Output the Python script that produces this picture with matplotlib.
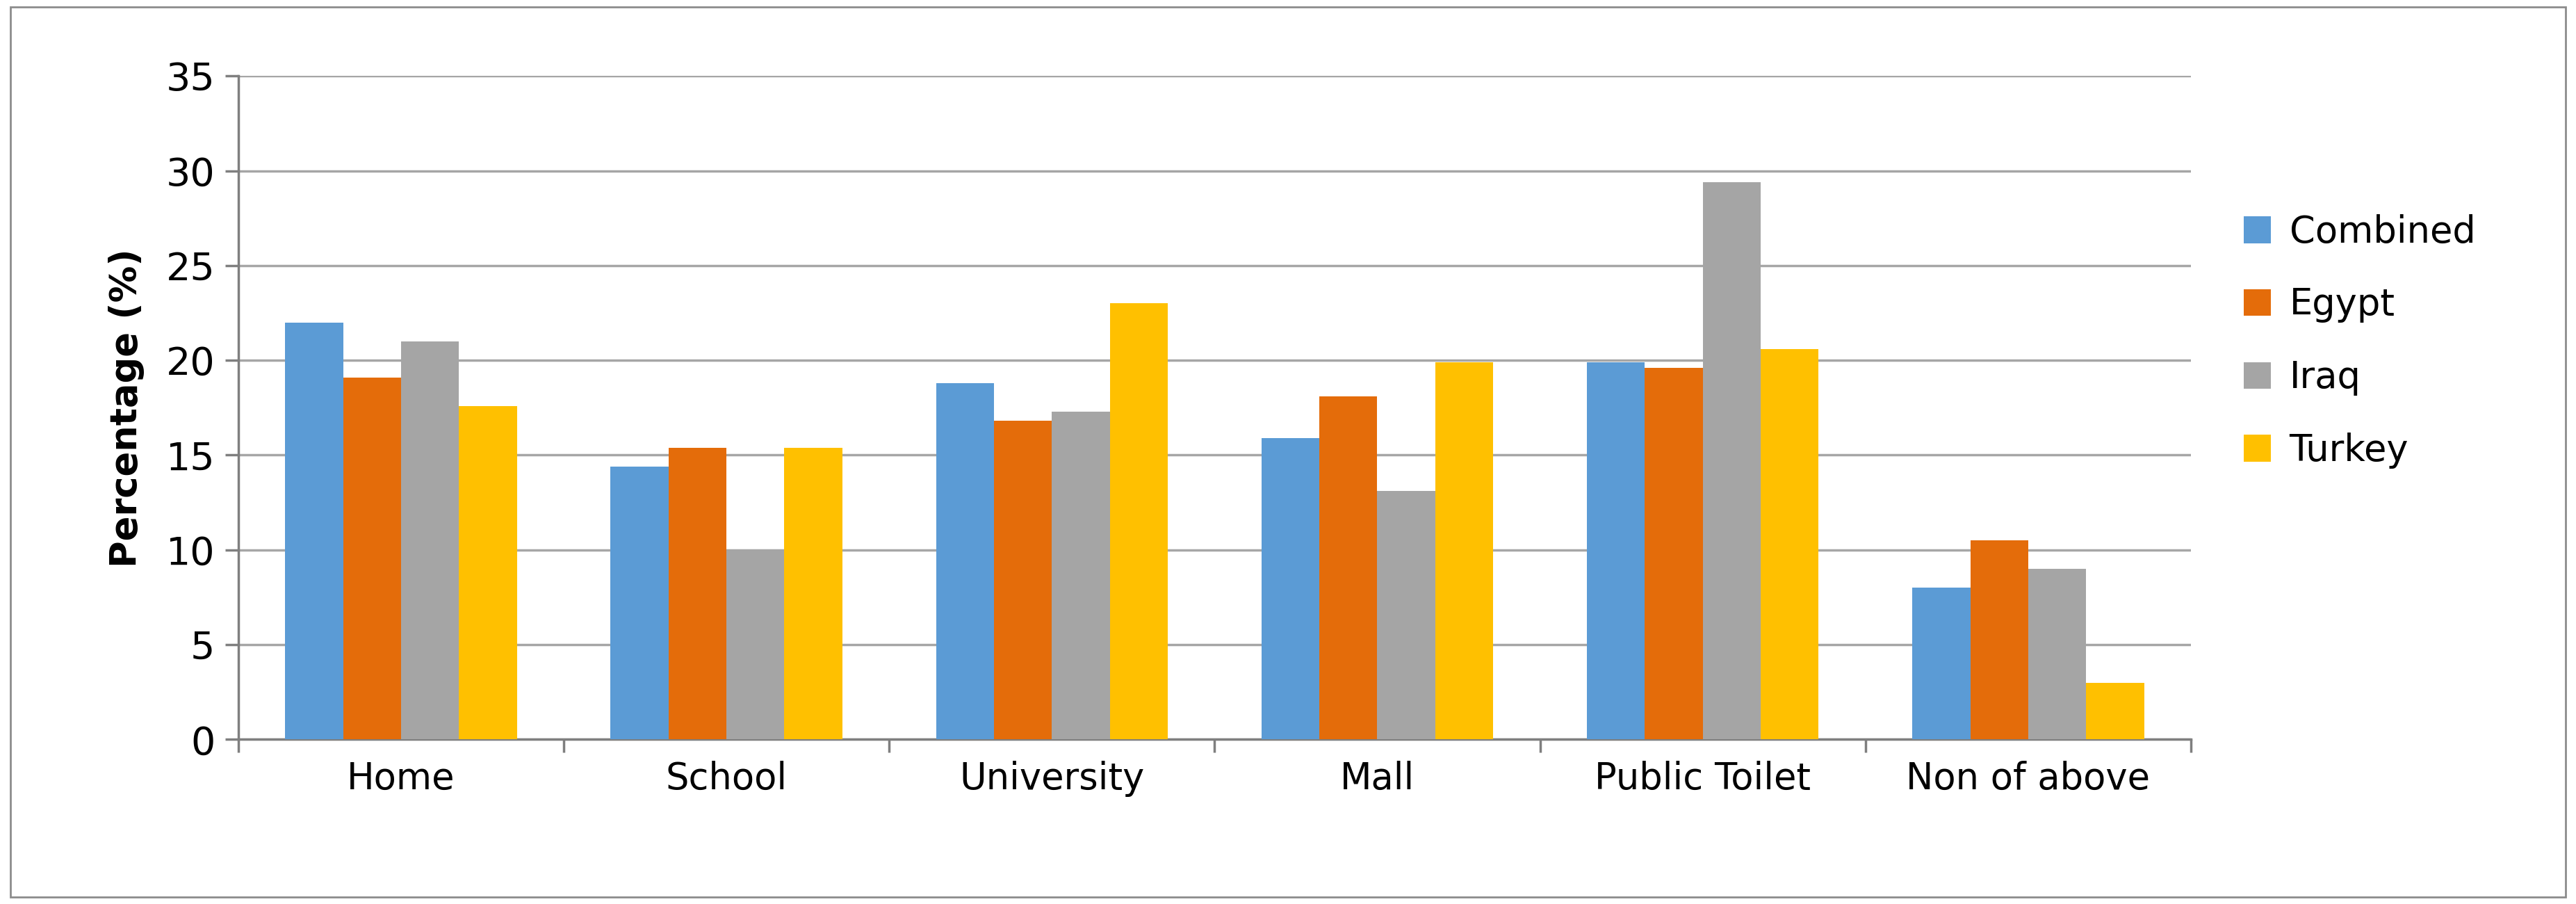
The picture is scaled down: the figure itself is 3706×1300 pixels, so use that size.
import numpy as np
import matplotlib
matplotlib.use("Agg")
import matplotlib.pyplot as plt
from matplotlib.patches import Rectangle

categories = ["Home", "School", "University", "Mall", "Public Toilet", "Non of above"]
series = ["Combined", "Egypt", "Iraq", "Turkey"]
combined = [22.0, 14.4, 18.8, 15.9, 19.9, 8.0]
egypt = [19.1, 15.4, 16.8, 18.1, 19.6, 10.5]
iraq = [21.0, 10.0, 17.3, 13.1, 29.4, 9.0]
turkey = [17.6, 15.4, 23.0, 19.9, 20.6, 3.0]
colors = ["#5B9BD5", "#E46C0A", "#A5A5A5", "#FFC000"]

fig = plt.figure(figsize=(37.06, 13.0), dpi=100)
fig.patches.append(Rectangle((0.004, 0.008), 0.992, 0.984, transform=fig.transFigure,
                             fill=False, edgecolor="#8C8C8C", linewidth=2))
ax = fig.add_axes([0.0925, 0.182, 0.758, 0.734])

x = np.arange(len(categories))
w = 0.178
for i, (name, vals) in enumerate(zip(series, [combined, egypt, iraq, turkey])):
    ax.bar(x + (i - 1.5) * w, vals, w, color=colors[i], label=name, zorder=3)

ax.set_xlim(-0.5, len(categories) - 0.5)
ax.set_ylim(0, 35)
ax.set_yticks(range(0, 36, 5))
ax.yaxis.grid(True, color="#A6A6A6", linewidth=2.5, zorder=0)
ax.set_xticks(x)
ax.set_xticklabels(categories)
ax.set_xticks(np.arange(-0.5, len(categories)), minor=True)
ax.tick_params(axis="x", which="major", length=0, pad=22, labelsize=38)
ax.tick_params(axis="x", which="minor", length=14, width=2.5, color="#7F7F7F")
ax.tick_params(axis="y", length=14, width=2.5, color="#7F7F7F", labelsize=40, pad=10)
for s in ["top", "right"]:
    ax.spines[s].set_visible(False)
for s in ["left", "bottom"]:
    ax.spines[s].set_color("#7F7F7F")
    ax.spines[s].set_linewidth(2.5)
ax.set_ylabel("Percentage (%)", fontsize=38, fontweight="bold", labelpad=22)

ax.legend(loc="center left", bbox_to_anchor=(1.01, 0.6), frameon=False, fontsize=38,
          handlelength=0.75, handleheight=0.75, labelspacing=1.0, handletextpad=0.5)

fig.savefig("out.png", dpi=100)
